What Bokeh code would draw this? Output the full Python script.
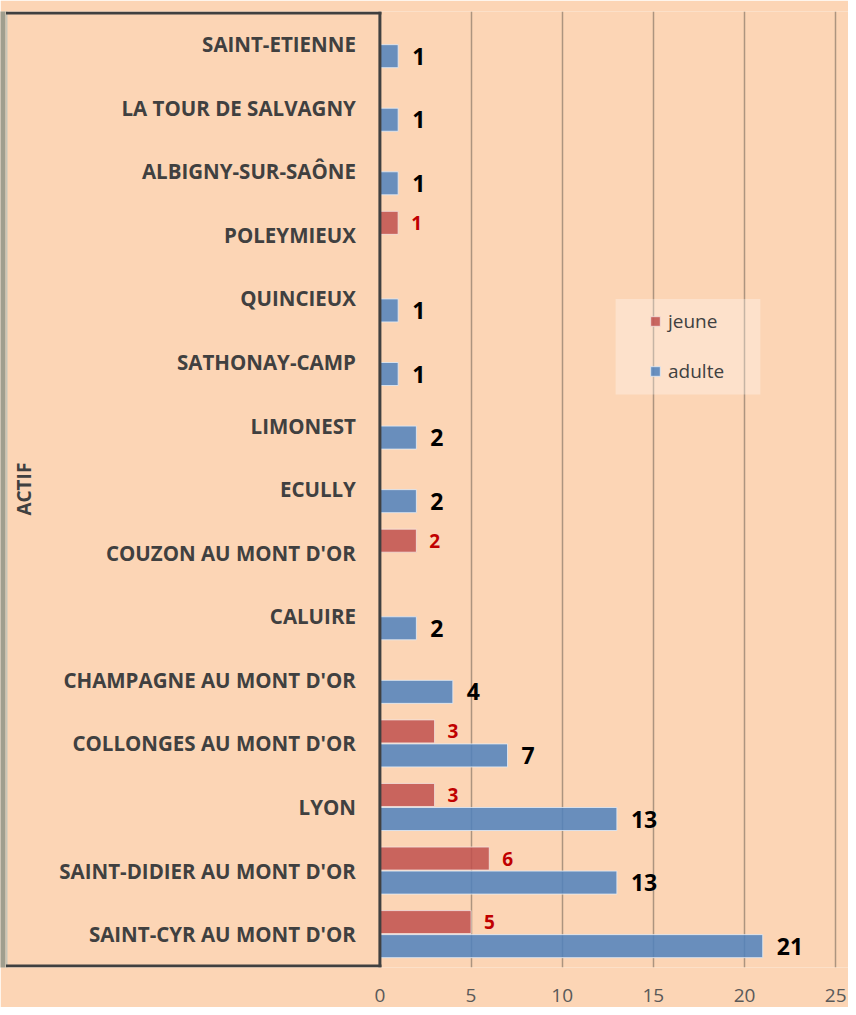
import math
from bokeh.plotting import figure
from bokeh.models import (ColumnDataSource, Range1d, FixedTicker, Legend, LegendItem,
                          Label, BoxAnnotation)
from bokeh.core.properties import value
from bokeh.embed import file_html
from bokeh.resources import INLINE

# ---------------- data ----------------
categories = ["SAINT-ETIENNE", "LA TOUR DE SALVAGNY", "ALBIGNY-SUR-SAÔNE", "POLEYMIEUX",
              "QUINCIEUX", "SATHONAY-CAMP", "LIMONEST", "ECULLY", "COUZON AU MONT D'OR",
              "CALUIRE", "CHAMPAGNE AU MONT D'OR", "COLLONGES AU MONT D'OR", "LYON",
              "SAINT-DIDIER AU MONT D'OR", "SAINT-CYR AU MONT D'OR"]
jeune = [0, 0, 0, 1, 0, 0, 0, 0, 2, 0, 0, 3, 3, 6, 5]
adulte = [1, 1, 1, 0, 1, 1, 2, 2, 0, 2, 4, 7, 13, 13, 21]
x_ticks = [0, 5, 10, 15, 20, 25]
series_names = ["jeune", "adulte"]
group_label = "ACTIF"

# ---------------- styles ----------------
BG = "#FCD5B5"
BLUE = "#4F81BD"
RED = "#C0504D"
DARK = "#404040"
FONT = "Open Sans"

FIG_W, FIG_H = 848, 1007
PX_PER_UNIT = 18.23
ZERO_PX = 379.4
X0 = -ZERO_PX / PX_PER_UNIT
XS = X0 + 7 / PX_PER_UNIT   # right edge of the gray strip

p = figure(width=FIG_W, height=FIG_H, output_backend="svg", toolbar_location=None,
           x_range=Range1d(X0, (FIG_W - ZERO_PX) / PX_PER_UNIT),
           y_range=Range1d(14.525, -0.5136),
           y_axis_location=None,
           min_border_left=0, min_border_right=0, min_border_top=11, min_border_bottom=40)
p.background_fill_color = BG
p.border_fill_color = BG
p.outline_line_color = None

# grid
p.ygrid.visible = False
p.xgrid.ticker = FixedTicker(ticks=x_ticks[1:])
p.xgrid.grid_line_color = "#AC947F"
p.xgrid.grid_line_width = 1.5

# x axis
p.xaxis.ticker = FixedTicker(ticks=x_ticks)
p.xaxis.axis_line_color = None
p.xaxis.major_tick_line_color = None
p.xaxis.minor_tick_line_color = None
p.xaxis.major_label_standoff = 15
p.xaxis.major_label_text_font = FONT
p.xaxis.major_label_text_font_size = "19px"
p.xaxis.major_label_text_color = "#595959"

# gray strip on the left edge of the page (decoration)
p.quad(left=[X0 - 1, X0 + 5 / PX_PER_UNIT], right=[X0 + 5 / PX_PER_UNIT, XS],
       top=[-1, -1], bottom=[15, 15],
       fill_color=["#A09E8E", "#C8C6B8"], line_color=None)

# sources
off = 0.189
bh = 0.362
idx = list(range(len(categories)))
jsrc = ColumnDataSource(dict(
    y=[i - off for i in idx if jeune[i]],
    v=[jeune[i] for i in idx if jeune[i]],
    t=[str(jeune[i]) for i in idx if jeune[i]]))
asrc = ColumnDataSource(dict(
    y=[i + off for i in idx if adulte[i]],
    v=[adulte[i] for i in idx if adulte[i]],
    t=[str(adulte[i]) for i in idx if adulte[i]]))
csrc = ColumnDataSource(dict(y=idx, cat=categories))

rj = p.hbar(y="y", right="v", left=0, height=bh, source=jsrc,
            fill_color=RED, fill_alpha=0.85, line_color="#F4E4E0", line_alpha=0.8, line_width=1)
ra = p.hbar(y="y", right="v", left=0, height=bh, source=asrc,
            fill_color=BLUE, fill_alpha=0.85, line_color="#E4ECF6", line_alpha=0.8, line_width=1)

# value labels
p.text(x="v", y="y", text="t", source=jsrc, x_offset=13, text_align="left",
       text_baseline="middle", text_font=value(FONT), text_font_style="bold",
       text_font_size="19px", text_color="#C00000")
p.text(x="v", y="y", text="t", source=asrc, x_offset=14, text_align="left",
       text_baseline="middle", text_font=value(FONT), text_font_style="bold",
       text_font_size="23px", text_color="#000000")

# category labels
p.text(x=0, y="y", text="cat", source=csrc, x_offset=-24, text_align="right",
       text_baseline="middle", text_font=value(FONT), text_font_style="bold",
       text_font_size="20.5px", text_color=DARK)

# the box around the category panel: top, right (axis) and bottom sides
p.segment(x0=[XS, 0, XS], y0=[-0.49, -0.49, 14.5], x1=[0, 0, 0], y1=[-0.49, 14.5, 14.5],
          line_color=DARK, line_width=3, line_cap="square")

# group label
p.add_layout(Label(x=-19.51, y=7.0, text=group_label, angle=math.pi / 2,
                   text_align="center", text_baseline="middle", text_font=FONT,
                   text_font_style="bold", text_font_size="19px", text_color=DARK))

# legend background + legend
p.add_layout(BoxAnnotation(left=12.93, right=20.87, top=4.01, bottom=5.51,
                           fill_color="white", fill_alpha=0.3, line_color=None))
legend = Legend(items=[LegendItem(label=series_names[0], renderers=[rj]),
                       LegendItem(label=series_names[1], renderers=[ra])],
                location=(649, 583), orientation="vertical",
                background_fill_alpha=0, border_line_color=None,
                padding=14, margin=0, spacing=24,
                glyph_width=12, glyph_height=12, label_height=20, label_standoff=7,
                label_text_font=FONT, label_text_font_size="19px", label_text_color=DARK)
p.add_layout(legend)

open("out.html", "w").write(file_html(p, INLINE))
